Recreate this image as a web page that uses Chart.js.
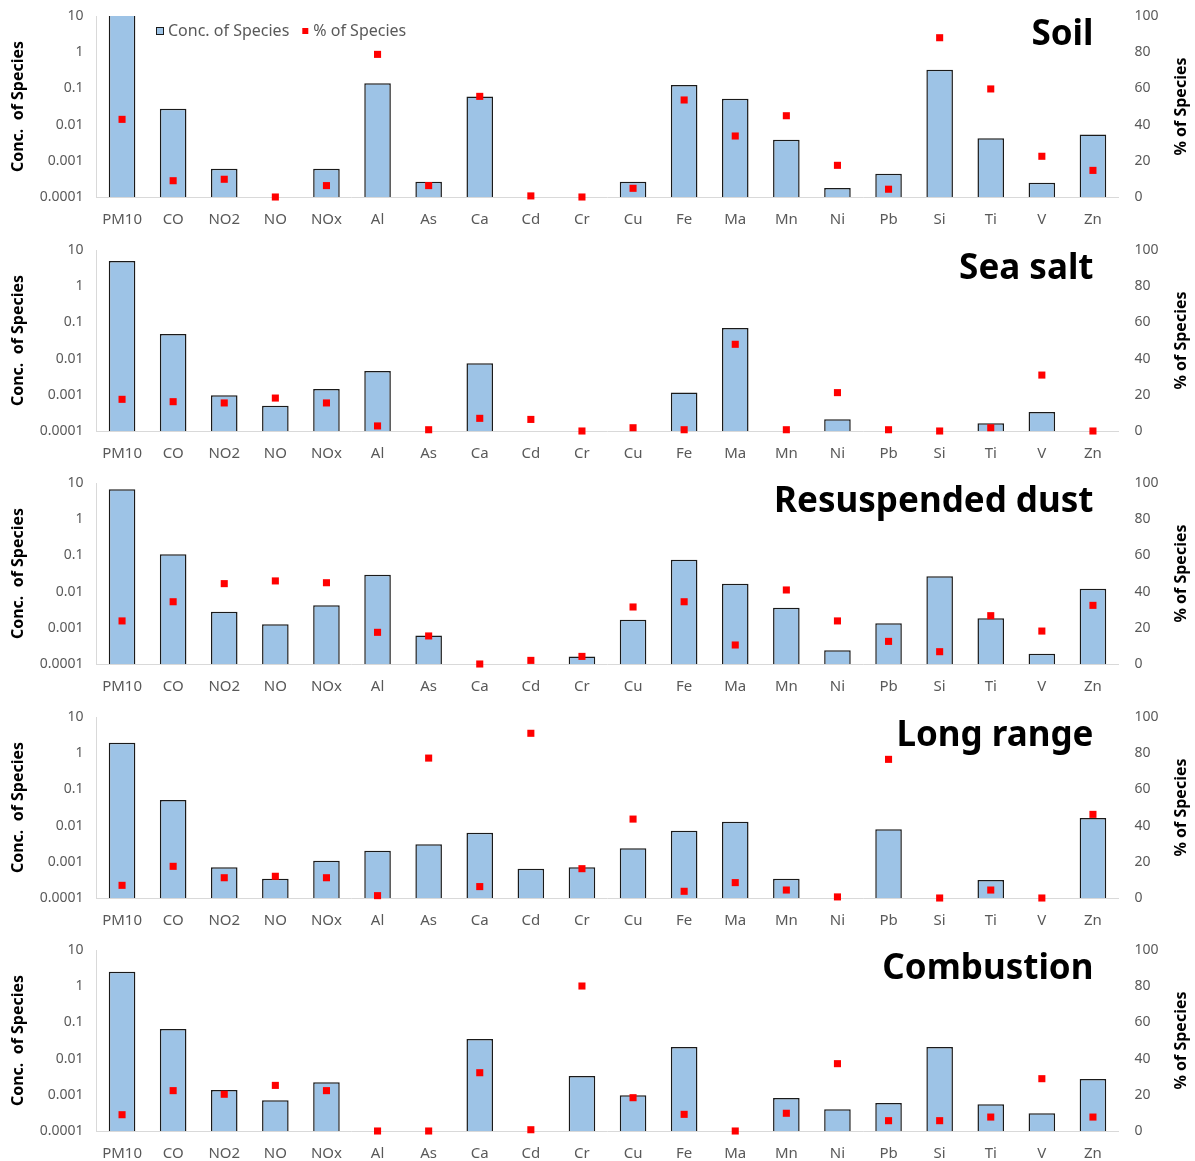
<!DOCTYPE html>
<html>
<head>
<meta charset="utf-8">
<script src="https://cdn.jsdelivr.net/npm/chart.js@4.4.1/dist/chart.umd.min.js"></script>
<style>
  html, body { margin: 0; padding: 0; background: #fff; }
  #wrap { position: relative; width: 1195px; height: 1161px; overflow: hidden; }
  .panel { position: absolute; left: 0; width: 1195px; height: 233px; }
</style>
</head>
<body>
<div id="wrap"></div>
<script>
// Species on the category axis
const species = ['PM10', 'CO', 'NO2', 'NO', 'NOx', 'Al', 'As', 'Ca', 'Cd', 'Cr',
                 'Cu', 'Fe', 'Ma', 'Mn', 'Ni', 'Pb', 'Si', 'Ti', 'V', 'Zn'];

// Source profiles, one panel each
const sourceNames = ['Soil', 'Sea salt', 'Resuspended dust', 'Long range', 'Combustion'];

// Log axis ticks (concentration)
const concTickValues = [0.0001, 0.001, 0.01, 0.1, 1, 10];
const concTickLabels = ['0.0001', '0.001', '0.01', '0.1', '1', '10'];

// Concentration of species (null = not present in profile)
const soilConc = [11, 0.0275, 0.0006, null, 0.0006, 0.138, 0.000265, 0.060, null, null,
                  0.000265, 0.124, 0.052, 0.0038, 0.000177, 0.00044, 0.329, 0.0042, 0.000248, 0.0053];
const seaSaltConc = [5.0, 0.048, 0.00097, 0.0005, 0.00145, 0.00454, null, 0.0074, null, null,
                     null, 0.00115, 0.070, null, 0.00021, null, null, 0.000163, 0.000335, null];
const dustConc = [6.68, 0.107, 0.00279, 0.00125, 0.00417, 0.0294, 0.00061, null, null, 0.00016,
                  0.00168, 0.0762, 0.0166, 0.0036, 0.00024, 0.00133, 0.0264, 0.00183, 0.000193, 0.0120];
const longRangeConc = [1.95, 0.051, 0.000703, 0.000342, 0.00107, 0.00203, 0.00303, 0.00638, 0.000646, 0.000703,
                       0.00236, 0.00724, 0.0128, 0.000342, null, 0.00789, null, 0.000314, null, 0.0162];
const combustionConc = [2.52, 0.0658, 0.00136, 0.000703, 0.00221, null, null, 0.0348, null, 0.0033,
                        0.00097, 0.0209, null, 0.000817, 0.000397, 0.000593, 0.0209, 0.000546, 0.000308, 0.00273];

// Percentage of species apportioned to each source
const soilPct = [42.9, 9.0, 9.8, 0, 6.3, 78.8, 6.3, 55.6, 0.6, 0,
                 4.8, 53.6, 33.7, 44.9, 17.5, 4.3, 88.0, 59.7, 22.5, 14.7];
const seaSaltPct = [17.5, 16.2, 15.5, 18.2, 15.5, 2.8, 0.7, 7.0, 6.4, 0,
                    1.8, 0.7, 47.9, 0.7, 21.2, 0.7, 0, 1.8, 30.9, 0];
const dustPct = [23.8, 34.4, 44.4, 45.9, 44.9, 17.5, 15.5, 0, 2.0, 4.2,
                 31.5, 34.4, 10.5, 40.9, 23.8, 12.5, 6.8, 26.7, 18.2, 32.4];
const longRangePct = [7.0, 17.5, 11.2, 12.0, 11.2, 1.3, 77.3, 6.3, 91.0, 16.2,
                      43.6, 3.7, 8.5, 4.4, 0.6, 76.6, 0, 4.4, 0, 46.2];
const combustionPct = [9.0, 22.3, 20.3, 25.2, 22.3, 0, 0, 32.2, 0.7, 80.1,
                       18.4, 9.2, 0, 9.8, 37.2, 5.7, 5.7, 7.7, 28.9, 7.7];

const concSeries = [soilConc, seaSaltConc, dustConc, longRangeConc, combustionConc];
const pctSeries = [soilPct, seaSaltPct, dustPct, longRangePct, combustionPct];

const BAR_FILL = '#9dc3e6';
const BAR_EDGE = '#1a1a1a';
const MARK = '#ff0000';
const TICK_COLOR = '#595959';
const AXIS_COLOR = '#d9d9d9';
const FONT = '"Noto Sans", "DejaVu Sans", sans-serif';

Chart.defaults.font.family = FONT;

// Big source name in the upper right of the plot area
const panelTitle = {
  id: 'panelTitle',
  afterDraw(chart, args, opts) {
    const { ctx, chartArea } = chart;
    ctx.save();
    ctx.font = 'bold 35px ' + FONT;
    ctx.fillStyle = '#000';
    ctx.textAlign = 'right';
    ctx.textBaseline = 'alphabetic';
    ctx.fillText(opts.text, chartArea.right - 25, chartArea.top + 29);
    ctx.restore();
  }
};

// Right axis title, reading bottom to top
const rightTitle = {
  id: 'rightTitle',
  afterDraw(chart, args, opts) {
    const { ctx, chartArea } = chart;
    ctx.save();
    ctx.translate(1181, (chartArea.top + chartArea.bottom) / 2);
    ctx.rotate(-Math.PI / 2);
    ctx.font = 'bold 16px ' + FONT;
    ctx.fillStyle = '#000';
    ctx.textAlign = 'center';
    ctx.textBaseline = 'middle';
    ctx.fillText(opts.text, 0, 0);
    ctx.restore();
  }
};

// Inline legend inside the plot area (first panel only)
const inlineLegend = {
  id: 'inlineLegend',
  afterDraw(chart, args, opts) {
    if (!opts.show) return;
    const { ctx, chartArea } = chart;
    const bar = chart.data.datasets[0];
    const pts = chart.data.datasets[1];
    const y = chartArea.top + 15;
    ctx.save();
    ctx.font = '16px ' + FONT;
    ctx.textBaseline = 'middle';
    ctx.textAlign = 'left';
    let x = 156;
    ctx.fillStyle = bar.backgroundColor;
    ctx.fillRect(x, y - 4, 8, 8);
    ctx.strokeStyle = BAR_EDGE;
    ctx.lineWidth = 1;
    ctx.strokeRect(x + 0.5, y - 3.5, 7, 7);
    x += 12;
    ctx.fillStyle = TICK_COLOR;
    ctx.fillText(bar.label, x, y);
    x += ctx.measureText(bar.label).width + 13;
    ctx.fillStyle = pts.backgroundColor;
    ctx.fillRect(x, y - 3, 6, 6);
    x += 11;
    ctx.fillStyle = TICK_COLOR;
    ctx.fillText(pts.label, x, y);
    ctx.restore();
  }
};

// Fixed axis band sizes so every panel shares the same plot area
function fixWidth(w) {
  return function (scale) {
    scale.width = w;
    scale.paddingTop = 0;
    scale.paddingBottom = 0;
  };
}

const wrap = document.getElementById('wrap');

sourceNames.forEach((name, i) => {
  const div = document.createElement('div');
  div.className = 'panel';
  div.style.top = Math.round(i * 233.5) + 'px';
  const canvas = document.createElement('canvas');
  canvas.width = 1195;
  canvas.height = 233;
  div.appendChild(canvas);
  wrap.appendChild(div);

  new Chart(canvas, {
    data: {
      labels: species,
      datasets: [
        {
          type: 'bar',
          label: 'Conc. of Species',
          data: concSeries[i],
          yAxisID: 'y',
          backgroundColor: BAR_FILL,
          borderColor: BAR_EDGE,
          borderWidth: 1.5,
          barPercentage: 0.52,
          categoryPercentage: 1,
          order: 2
        },
        {
          type: 'line',
          label: '% of Species',
          data: pctSeries[i],
          yAxisID: 'y2',
          showLine: false,
          pointStyle: 'rect',
          pointRadius: 5,
          pointBorderWidth: 0,
          backgroundColor: MARK,
          borderColor: MARK,
          clip: false,
          order: 1
        }
      ]
    },
    options: {
      responsive: false,
      animation: false,
      events: [],
      layout: { padding: { top: 16, left: 0, right: 0, bottom: 0 } },
      plugins: {
        legend: { display: false },
        tooltip: { enabled: false },
        panelTitle: { text: name },
        rightTitle: { text: '% of Species' },
        inlineLegend: { show: i === 0 }
      },
      scales: {
        x: {
          type: 'category',
          offset: true,
          grid: { display: false, drawTicks: false },
          border: { display: true, color: AXIS_COLOR, width: 1 },
          ticks: {
            color: TICK_COLOR,
            font: { size: 15 },
            padding: 14,
            autoSkip: false,
            maxRotation: 0
          },
          afterFit(scale) {
            scale.height = 36;
            scale.paddingLeft = 0;
            scale.paddingRight = 0;
          }
        },
        y: {
          type: 'logarithmic',
          position: 'left',
          min: 0.0001,
          max: 10,
          grid: { display: false, drawTicks: false },
          border: { display: true, color: AXIS_COLOR, width: 1 },
          afterBuildTicks(scale) {
            scale.ticks = concTickValues.map(v => ({ value: v }));
          },
          ticks: {
            color: TICK_COLOR,
            font: { size: 14 },
            padding: 13,
            callback: (value, index) => concTickLabels[index]
          },
          title: {
            display: true,
            text: 'Conc.  of Species',
            color: '#000',
            font: { size: 16, weight: 'bold' },
            padding: { top: 9 }
          },
          afterFit: fixWidth(96.5)
        },
        y2: {
          type: 'linear',
          position: 'right',
          min: 0,
          max: 100,
          grid: { display: false, drawTicks: false },
          border: { display: false },
          ticks: {
            stepSize: 20,
            color: TICK_COLOR,
            font: { size: 14 },
            padding: 16
          },
          afterFit: fixWidth(76.5)
        }
      }
    },
    plugins: [panelTitle, rightTitle, inlineLegend]
  });
});
</script>
</body>
</html>
